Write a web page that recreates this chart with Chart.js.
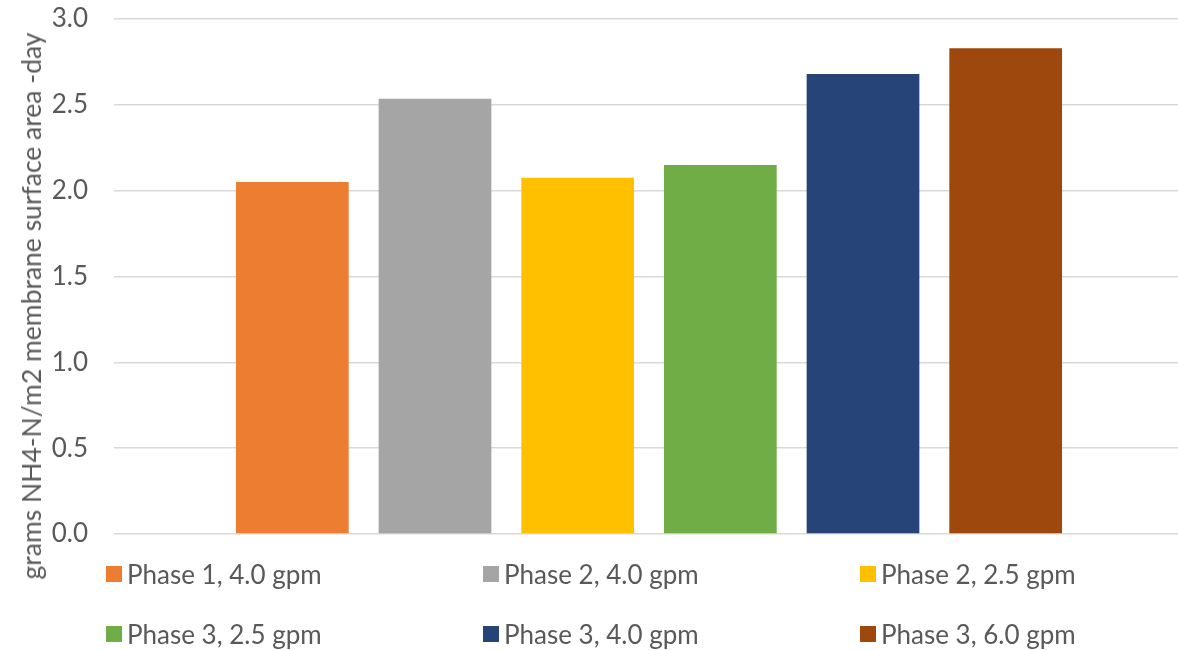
<!DOCTYPE html>
<html>
<head>
<meta charset="utf-8">
<script src="https://cdn.jsdelivr.net/npm/chart.js@4/dist/chart.umd.min.js"></script>
<style>
  html, body { margin: 0; padding: 0; background: #fff; overflow: hidden; }
  body { width: 1178px; height: 650px; position: relative; font-family: Lato, "Open Sans", sans-serif; color: #595959; }
  #wrap { position: absolute; left: 0; top: 0; width: 1184px; height: 650px; }
  #yTitle {
    position: absolute; left: 31px; top: 306px; white-space: nowrap;
    font-size: 26.5px; transform: translate(-50%, -50%) rotate(-90deg);
  }
  .leg-item { position: absolute; display: flex; align-items: center; font-size: 26px; white-space: nowrap; }
  .leg-swatch { width: 16px; height: 16px; margin-right: 5px; }
</style>
</head>
<body>
<div id="wrap"><canvas id="chart"></canvas></div>
<div id="yTitle">grams NH4-N/m2 membrane surface area -day</div>
<div id="legend"></div>
<script>
  const seriesNames = ["Phase 1, 4.0 gpm", "Phase 2, 4.0 gpm", "Phase 2, 2.5 gpm", "Phase 3, 2.5 gpm", "Phase 3, 4.0 gpm", "Phase 3, 6.0 gpm"];
  const seriesValues = [2.05, 2.535, 2.075, 2.15, 2.68, 2.83];
  const seriesColors = ["#ED7D31", "#A5A5A5", "#FFC000", "#70AD47", "#264478", "#9E480E"];
  const yTicks = [0, 0.5, 1.0, 1.5, 2.0, 2.5, 3.0];

  const datasets = seriesNames.map((name, i) => ({
    label: name,
    data: [seriesValues[i]],
    backgroundColor: seriesColors[i],
    categoryPercentage: 0.8,
    barPercentage: 0.79
  }));

  new Chart(document.getElementById("chart").getContext("2d"), {
    type: "bar",
    data: { labels: [""], datasets },
    options: {
      responsive: true, maintainAspectRatio: false, animation: false,
      layout: { padding: { left: 0, right: 0, top: 19, bottom: 116 } },
      plugins: { legend: { display: false }, tooltip: { enabled: false } },
      scales: {
        x: { display: false },
        y: {
          min: 0, max: 3,
          afterBuildTicks: axis => { axis.ticks = yTicks.map(v => ({ value: v })); },
          afterFit: axis => { axis.width = 114; axis.paddingTop = 0; axis.paddingBottom = 0; },
          grid: { color: "#d9d9d9", lineWidth: 1.5, drawTicks: false },
          border: { display: false },
          ticks: {
            padding: 26, color: "#595959",
            font: { family: "Lato", size: 26 },
            callback: v => Number(v).toFixed(1)
          }
        }
      }
    }
  });

  // legend: three columns, two rows
  const legend = document.getElementById("legend");
  const colX = [106, 483, 860];
  const rowY = [574, 634];
  legend.innerHTML = seriesNames.map((name, i) => `
    <div class="leg-item" style="left:${colX[i % 3]}px; top:${rowY[Math.floor(i / 3)]}px; transform: translateY(-50%);">
      <span class="leg-swatch" style="background:${seriesColors[i]}"></span><span>${name}</span>
    </div>`).join("");
</script>
</body>
</html>
